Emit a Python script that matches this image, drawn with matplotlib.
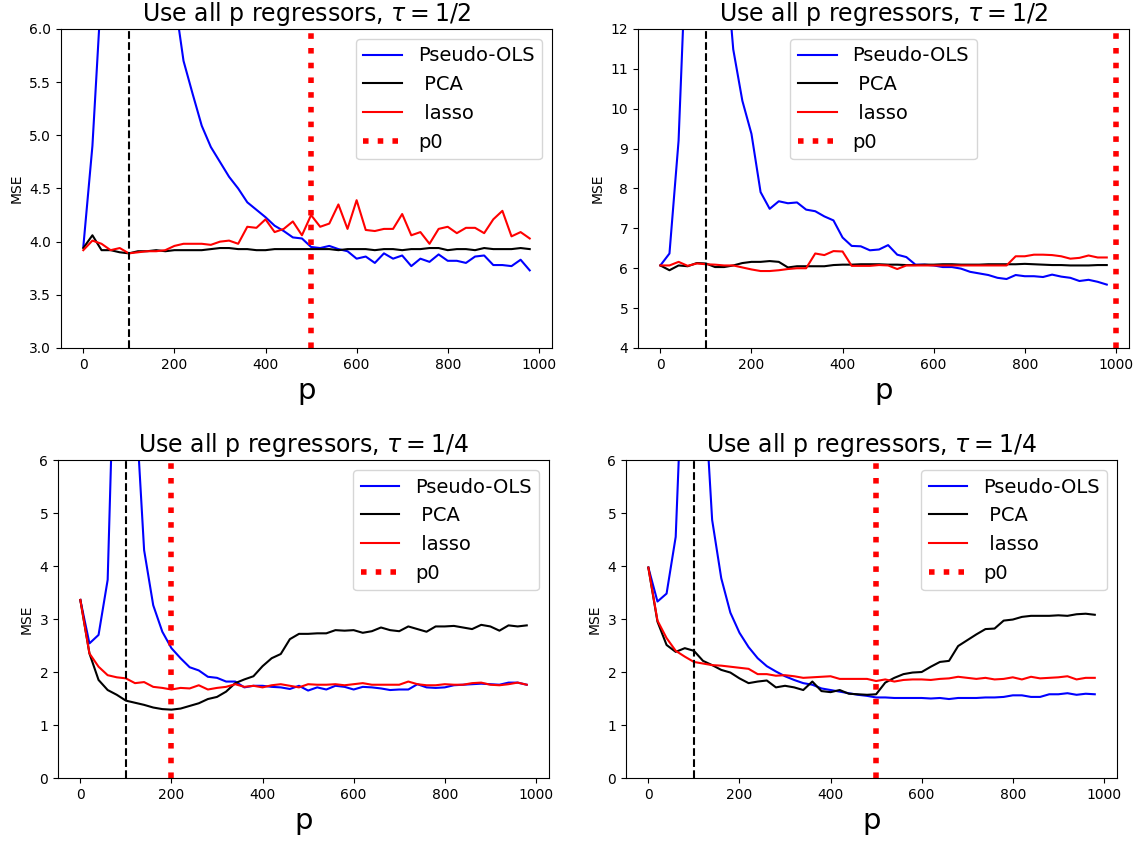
import matplotlib
matplotlib.use("Agg")
import matplotlib.pyplot as plt
import numpy as np

# p grid shared by all four panels
p = np.arange(0, 1000, 20)

# top-left: tau = 1/2, p0 = 500
tl_ols = [3.95, 4.90, 6.4, 9.0, 15.0, 60.0, 15.0, 9.0, 7.2, 6.6,
          6.3, 5.70, 5.39, 5.09, 4.89, 4.75, 4.61, 4.50, 4.37, 4.30,
          4.23, 4.15, 4.10, 4.04, 4.03, 3.95, 3.94, 3.96, 3.93, 3.91,
          3.84, 3.86, 3.80, 3.89, 3.84, 3.87, 3.77, 3.84, 3.81, 3.88,
          3.82, 3.82, 3.80, 3.86, 3.87, 3.78, 3.78, 3.77, 3.83, 3.73]
tl_pca = [3.94, 4.06, 3.92, 3.92, 3.90, 3.89, 3.91, 3.91, 3.92, 3.91,
          3.92, 3.92, 3.92, 3.92, 3.93, 3.94, 3.94, 3.93, 3.93, 3.92,
          3.92, 3.93, 3.93, 3.93, 3.93, 3.93, 3.93, 3.93, 3.92, 3.93,
          3.93, 3.93, 3.92, 3.93, 3.93, 3.92, 3.93, 3.93, 3.94, 3.94,
          3.92, 3.93, 3.93, 3.92, 3.94, 3.93, 3.93, 3.93, 3.94, 3.93]
tl_lasso = [3.92, 4.01, 3.98, 3.92, 3.94, 3.89, 3.90, 3.91, 3.91, 3.92,
            3.96, 3.98, 3.98, 3.98, 3.97, 4.00, 4.01, 3.98, 4.14, 4.13,
            4.21, 4.09, 4.12, 4.19, 4.06, 4.25, 4.14, 4.17, 4.35, 4.12,
            4.39, 4.11, 4.10, 4.12, 4.12, 4.26, 4.06, 4.09, 3.98, 4.12,
            4.14, 4.08, 4.13, 4.13, 4.08, 4.21, 4.29, 4.05, 4.09, 4.03]

# top-right: tau = 1/2, p0 = 1000
tr_ols = [6.07, 6.37, 9.2, 15.0, 40.0, 200.0, 40.0, 14.2, 11.49, 10.2,
          9.37, 7.91, 7.49, 7.68, 7.63, 7.65, 7.47, 7.43, 7.30, 7.20,
          6.77, 6.56, 6.55, 6.45, 6.47, 6.58, 6.34, 6.28, 6.09, 6.09,
          6.07, 6.03, 6.03, 5.99, 5.91, 5.87, 5.83, 5.76, 5.73, 5.83,
          5.80, 5.80, 5.78, 5.84, 5.79, 5.76, 5.68, 5.71, 5.66, 5.59]
tr_pca = [6.07, 5.95, 6.07, 6.05, 6.13, 6.12, 6.03, 6.03, 6.07, 6.13,
          6.16, 6.16, 6.18, 6.16, 6.02, 6.05, 6.05, 6.05, 6.05, 6.08,
          6.09, 6.09, 6.10, 6.10, 6.10, 6.09, 6.09, 6.08, 6.08, 6.09,
          6.09, 6.10, 6.10, 6.09, 6.09, 6.09, 6.10, 6.10, 6.10, 6.10,
          6.11, 6.10, 6.09, 6.08, 6.08, 6.07, 6.07, 6.07, 6.08, 6.08]
tr_lasso = [6.07, 6.07, 6.16, 6.06, 6.12, 6.10, 6.09, 6.07, 6.07, 6.02,
            5.97, 5.93, 5.93, 5.95, 5.98, 6.00, 6.00, 6.37, 6.33, 6.43,
            6.42, 6.06, 6.06, 6.06, 6.08, 6.07, 5.98, 6.07, 6.07, 6.07,
            6.07, 6.07, 6.07, 6.07, 6.07, 6.07, 6.07, 6.07, 6.07, 6.30,
            6.30, 6.34, 6.34, 6.33, 6.30, 6.24, 6.26, 6.32, 6.27, 6.27]

# bottom-left: tau = 1/4, p0 = 200
bl_ols = [3.36, 2.54, 2.70, 3.74, 9.8, 100.0, 7.3, 4.30, 3.26, 2.76,
          2.45, 2.26, 2.09, 2.03, 1.91, 1.89, 1.82, 1.82, 1.71, 1.74,
          1.74, 1.72, 1.71, 1.68, 1.74, 1.65, 1.71, 1.67, 1.74, 1.72,
          1.67, 1.72, 1.71, 1.69, 1.66, 1.67, 1.67, 1.77, 1.71, 1.70,
          1.71, 1.75, 1.76, 1.77, 1.78, 1.77, 1.76, 1.80, 1.80, 1.76]
bl_pca = [3.36, 2.35, 1.85, 1.66, 1.57, 1.46, 1.42, 1.38, 1.33, 1.30,
          1.29, 1.31, 1.36, 1.41, 1.49, 1.53, 1.63, 1.79, 1.86, 1.92,
          2.11, 2.26, 2.34, 2.62, 2.72, 2.72, 2.73, 2.73, 2.79, 2.78,
          2.79, 2.74, 2.77, 2.84, 2.79, 2.77, 2.86, 2.81, 2.76, 2.86,
          2.86, 2.87, 2.84, 2.81, 2.89, 2.86, 2.78, 2.88, 2.86, 2.88]
bl_lasso = [3.36, 2.35, 2.10, 1.94, 1.90, 1.88, 1.79, 1.81, 1.72, 1.70,
            1.67, 1.70, 1.69, 1.75, 1.67, 1.70, 1.72, 1.77, 1.72, 1.74,
            1.71, 1.75, 1.77, 1.74, 1.71, 1.77, 1.76, 1.76, 1.77, 1.75,
            1.77, 1.79, 1.76, 1.76, 1.76, 1.76, 1.82, 1.77, 1.75, 1.75,
            1.77, 1.76, 1.76, 1.79, 1.80, 1.76, 1.75, 1.77, 1.80, 1.76]

# bottom-right: tau = 1/4, p0 = 500
br_ols = [3.97, 3.33, 3.48, 4.55, 8.9, 80.0, 7.8, 4.87, 3.77, 3.12,
          2.74, 2.47, 2.26, 2.11, 2.01, 1.92, 1.85, 1.79, 1.76, 1.69,
          1.66, 1.63, 1.60, 1.57, 1.55, 1.52, 1.52, 1.51, 1.51, 1.51,
          1.51, 1.50, 1.51, 1.49, 1.51, 1.51, 1.51, 1.52, 1.52, 1.53,
          1.56, 1.56, 1.53, 1.53, 1.58, 1.58, 1.60, 1.57, 1.59, 1.58]
br_pca = [3.97, 2.95, 2.51, 2.38, 2.45, 2.40, 2.21, 2.13, 2.04, 1.99,
          1.88, 1.79, 1.82, 1.84, 1.71, 1.74, 1.71, 1.66, 1.82, 1.64,
          1.62, 1.66, 1.59, 1.58, 1.57, 1.58, 1.80, 1.89, 1.96, 1.99,
          2.00, 2.10, 2.19, 2.21, 2.49, 2.60, 2.71, 2.81, 2.82, 2.97,
          2.99, 3.04, 3.06, 3.06, 3.06, 3.07, 3.06, 3.09, 3.10, 3.08]
br_lasso = [3.97, 2.97, 2.64, 2.40, 2.29, 2.19, 2.16, 2.13, 2.12, 2.10,
            2.08, 2.06, 1.96, 1.96, 1.93, 1.94, 1.92, 1.89, 1.90, 1.91,
            1.92, 1.87, 1.87, 1.87, 1.87, 1.83, 1.86, 1.82, 1.85, 1.86,
            1.86, 1.85, 1.87, 1.88, 1.91, 1.89, 1.87, 1.89, 1.86, 1.87,
            1.90, 1.86, 1.91, 1.88, 1.89, 1.90, 1.92, 1.86, 1.89, 1.89]

n = 100
panels = [
    # rect, ols, pca, lasso, p0, ylim, tau, legend loc
    ([0.0534, 0.5872, 0.430, 0.3784], tl_ols, tl_pca, tl_lasso, 500, (3, 6), "1/2", "upper right"),
    ([0.5587, 0.5872, 0.430, 0.3784], tr_ols, tr_pca, tr_lasso, 1000, (4, 12), "1/2", "upper center"),
    ([0.0508, 0.0771, 0.430, 0.3772], bl_ols, bl_pca, bl_lasso, 200, (0, 6), "1/4", "upper right"),
    ([0.5482, 0.0771, 0.430, 0.3772], br_ols, br_pca, br_lasso, 500, (0, 6), "1/4", "upper right"),
]

fig = plt.figure(figsize=(11.42, 8.43), dpi=100)

for rect, ols, pca, lasso, p0, ylim, tau, loc in panels:
    ax = fig.add_axes(rect)
    ax.plot(p, ols, color="blue", lw=1.5, label="Pseudo-OLS")
    ax.plot(p, pca, color="black", lw=1.5, label=" PCA")
    ax.plot(p, lasso, color="red", lw=1.5, label=" lasso")
    ax.axvline(n, color="black", ls="--", lw=1.5)
    ax.axvline(p0, color="red", ls=":", lw=4, label="p0")
    ax.set_ylim(ylim)
    ax.set_title(r"Use all p regressors, $\tau = %s$" % tau, fontsize=17)
    ax.set_xlabel("p", fontsize=21)
    ax.set_ylabel("MSE", fontsize=10)
    ax.tick_params(labelsize=10)
    ax.legend(loc=loc, fontsize=14)

fig.savefig("out.png", dpi=100)
